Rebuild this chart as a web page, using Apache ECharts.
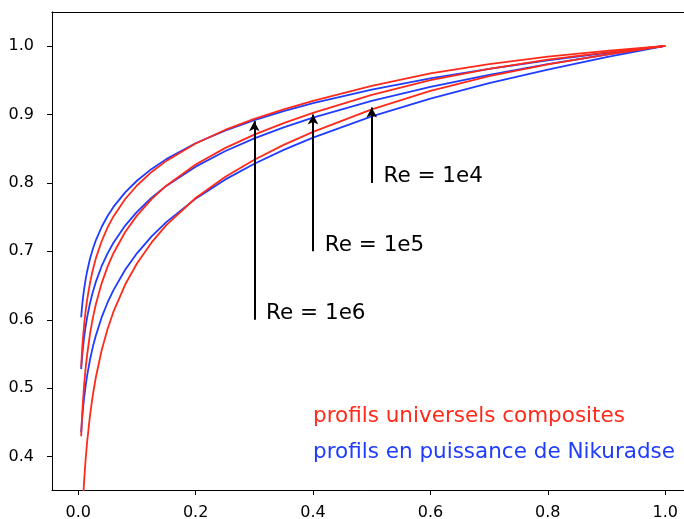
<!DOCTYPE html>
<html>
<head>
<meta charset="utf-8">
<script src="https://cdn.jsdelivr.net/npm/echarts@6/dist/echarts.min.js"></script>
<style>
html,body{margin:0;padding:0;background:#fff;}
#chart{width:684px;height:519px;}
</style>
</head>
<body>
<div id="chart"></div>
<script>
// x positions (y/delta)
const xs = [0.005,0.006,0.007,0.008,0.01,0.0125,0.015,0.02,0.025,0.03,0.04,0.05,0.06,0.08,0.1,0.125,0.15,0.2,0.25,0.3,0.35,0.4,0.5,0.6,0.7,0.8,0.9,1.0];

// Nikuradse power-law profiles (blue)
const blueRe1e6 = [0.6038,0.6143,0.6234,0.6316,0.6449,0.6588,0.6703,0.6891,0.7038,0.7161,0.7359,0.7517,0.7649,0.7862,0.8031,0.8204,0.8347,0.8579,0.8763,0.8917,0.9048,0.9164,0.9361,0.9525,0.9666,0.9790,0.9900,1.0];
const blueRe1e5 = [0.5282,0.5399,0.5500,0.5589,0.5742,0.5898,0.6029,0.6242,0.6411,0.6554,0.6786,0.6971,0.7125,0.7376,0.7577,0.7783,0.7956,0.8237,0.8462,0.8649,0.8811,0.8954,0.9199,0.9404,0.9579,0.9735,0.9874,1.0];
const blueRe1e4 = [0.4358,0.4485,0.4594,0.4692,0.4859,0.5032,0.5177,0.5416,0.5609,0.5772,0.6038,0.6253,0.6434,0.6731,0.6971,0.7219,0.7427,0.7770,0.8047,0.8280,0.8483,0.8662,0.8971,0.9230,0.9456,0.9656,0.9836,1.0];

// composite universal profiles (red)
const redRe1e6 = [0.5311,0.5472,0.5609,0.5727,0.5924,0.6122,0.6283,0.6538,0.6735,0.6897,0.7151,0.7349,0.7510,0.7765,0.7962,0.8160,0.8321,0.8576,0.8773,0.8934,0.9075,0.9199,0.9417,0.9598,0.9734,0.9843,0.9927,1.0];
const redRe1e5 = [0.4299,0.4495,0.4661,0.4805,0.5045,0.5285,0.5481,0.5791,0.6031,0.6227,0.6536,0.6777,0.6973,0.7282,0.7522,0.7763,0.7959,0.8268,0.8508,0.8704,0.8874,0.9024,0.9284,0.9500,0.9666,0.9800,0.9907,1.0];
const redRe1e4 = [0.2688,0.2940,0.3153,0.3337,0.3645,0.3953,0.4204,0.4601,0.4909,0.5161,0.5558,0.5866,0.6118,0.6515,0.6822,0.7130,0.7382,0.7779,0.8087,0.8338,0.8555,0.8746,0.9074,0.9345,0.9558,0.9732,0.9875,1.0];

// axis ticks
const xTicks = [0.0,0.2,0.4,0.6,0.8,1.0];
const yTicks = [0.4,0.5,0.6,0.7,0.8,0.9,1.0];

// annotations
const annLabels = ['Re = 1e6','Re = 1e5','Re = 1e4'];
const annX = [0.3,0.4,0.5];
const annBase = [0.6,0.7,0.8];
const annTip = [0.89,0.9,0.91];
const annTextX = [0.32,0.42,0.52];

const RED = '#ff2a1a';
const BLUE = '#1f3cff';
const FONT = 'DejaVu Sans';

function pairs(ys){ return xs.map((x,i)=>[x,ys[i]]); }
function curve(name, ys, color){
  return {
    type:'line', name, data: pairs(ys), showSymbol:false, symbol:'none',
    smooth:false,
    lineStyle:{color, width:1.8}, clip:true, silent:true, animation:false, z:2
  };
}

const series = [
  curve('b6', blueRe1e6, BLUE),
  curve('b5', blueRe1e5, BLUE),
  curve('b4', blueRe1e4, BLUE),
  curve('r6', redRe1e6, RED),
  curve('r5', redRe1e5, RED),
  curve('r4', redRe1e4, RED),
  {
    type:'line', data:[], silent:true, animation:false,
    markLine:{
      silent:true, animation:false,
      symbol:['none','arrow'], symbolSize:[8,10],
      lineStyle:{color:'#000', width:2, type:'solid'},
      label:{show:false},
      data: annX.map((x,i)=>[{coord:[x,annBase[i]]},{coord:[x,annTip[i]]}])
    }
  },
  {
    type:'scatter', silent:true, animation:false, symbolSize:0,
    data: annX.map((x,i)=>({value:[annTextX[i],annBase[i]], name:annLabels[i]})),
    label:{show:true, position:[0,0], align:'left', verticalAlign:'bottom',
      offset:[0,5], formatter:p=>p.name, fontFamily:FONT, fontSize:21.5,
      color:'#000000', opacity:1, textBorderWidth:0}
  }
];

const chart = echarts.init(document.getElementById('chart'), null, {renderer:'canvas'});
chart.setOption({
  animation:false,
  backgroundColor:'#fff',
  grid:{left:52, top:12, bottom:29, right:0, show:false, outerBoundsMode:'none'},
  xAxis:[{
    type:'value', min:-0.0447, max:1.032, position:'bottom',
    axisLine:{show:true, onZero:false, lineStyle:{color:'#000', width:1}},
    splitLine:{show:false},
    axisTick:{show:true, inside:false, length:5, lineStyle:{color:'#000'}, customValues:xTicks},
    axisLabel:{customValues:xTicks, formatter:v=>v.toFixed(1), fontFamily:FONT, fontSize:16, color:'#000', margin:15}
  },{
    type:'value', min:-0.0447, max:1.032, position:'top',
    axisLine:{show:true, onZero:false, lineStyle:{color:'#000', width:1}},
    splitLine:{show:false}, axisTick:{show:false}, axisLabel:{show:false}
  }],
  yAxis:{
    type:'value', min:0.3514, max:1.0496,
    axisLine:{show:true, onZero:false, lineStyle:{color:'#000', width:1}},
    splitLine:{show:false},
    axisTick:{show:true, inside:false, length:5, lineStyle:{color:'#000'}, customValues:yTicks},
    axisLabel:{customValues:yTicks, formatter:v=>v.toFixed(1), fontFamily:FONT, fontSize:16, color:'#000', margin:18}
  },
  graphic:[
    {type:'text', x:313, y:416, style:{text:'profils universels composites', fill:RED, font:'21.5px "DejaVu Sans"', textVerticalAlign:'middle', verticalAlign:'middle'}},
    {type:'text', x:313, y:452, style:{text:'profils en puissance de Nikuradse', fill:BLUE, font:'21.5px "DejaVu Sans"', textVerticalAlign:'middle', verticalAlign:'middle'}}
  ],
  series
});
</script>
</body>
</html>
